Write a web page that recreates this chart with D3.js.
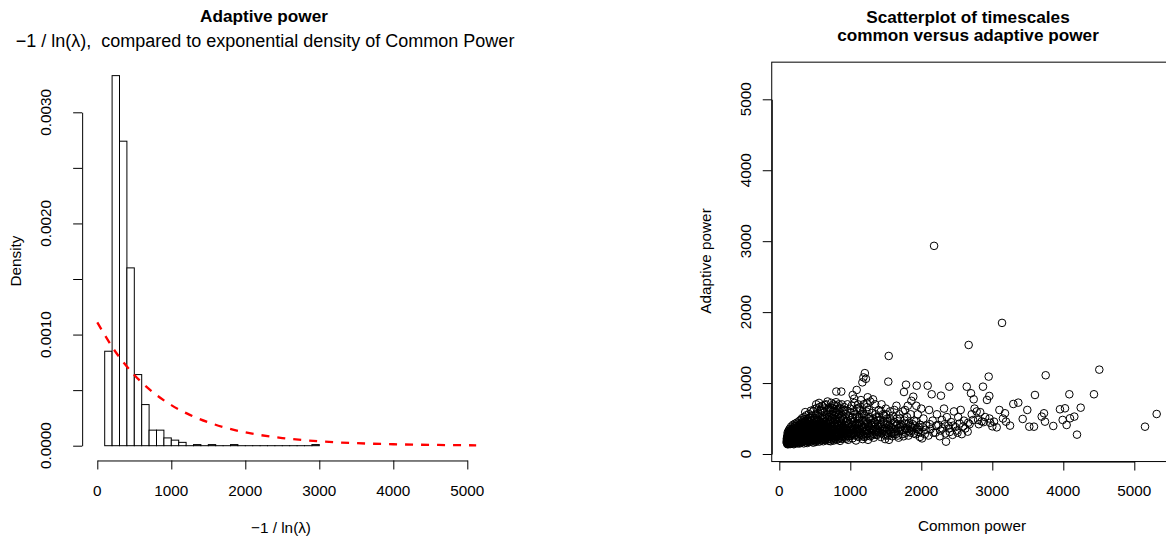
<!DOCTYPE html>
<html>
<head>
<meta charset="utf-8">
<script src="https://cdn.jsdelivr.net/npm/d3@7"></script>
<style>
body { margin: 0; background: #fff; }
svg { display: block; font-family: "Liberation Sans", Arial, Helvetica, sans-serif; }
</style>
</head>
<body>
<svg id="chart" width="1166" height="538"></svg>
<script>
// ---- data ----
var histBreaks = [100,200,300,400,500,600,700,800,900,1000,1100,1200,1300,1400,1500,1600,1700,1800,1900,2000,
                  2100,2200,2300,2400,2500,2600,2700,2800,2900,3000]
var histDensity = [0.00085,0.00333,0.00274,0.0016,0.00064,0.00037,0.00014,0.00014,0.00007,0.00005,
                   0.00003,0,0.00001,0,0.00001,0,0,0.00001,0,0,0,0,0,0,0,0,0,0,0.00001]

// exponential density of common power (red dashed)
var expX = [0,250,500,750,1000,1250,1500,1750,2000,2500,3000,3500,4000,4500,5120]
var expY = [0.00111,0.000841,0.000637,0.000482,0.000365,0.000277,0.00021,0.000159,0.00012,
            0.000069,0.0000396,0.0000227,0.000013,0.0000075,0.0000037]

var xTicks = [0,1000,2000,3000,4000,5000]
var densTicks = [0,0.0005,0.001,0.0015,0.002,0.0025,0.003]
var densLabels = [0,0.001,0.002,0.003]
var scatTicks = [0,1000,2000,3000,4000,5000]

// common power (x) vs adaptive power (y)
var points = [
[102,168],[106,214],[109,145],[112,252],[115,188],[118,302],[120,136],[123,230],[125,175],[128,268],[130,150],[132,330],
[135,205],[137,242],[140,160],[142,290],[145,188],[147,356],[150,222],[152,140],[155,262],[157,198],[160,318],[162,172],
[165,240],[167,386],[170,155],[172,280],[175,210],[177,340],[180,182],[182,250],[185,145],[187,300],[190,228],[192,410],
[195,165],[197,272],[200,200],[202,350],[205,138],[207,238],[210,310],[212,180],[215,262],[217,425],[220,152],[222,220],
[225,292],[227,370],[230,195],[232,248],[235,160],[237,330],[240,212],[242,278],[245,440],[247,175],[250,256],
[108,195],[126,210],[138,275],[148,175],[158,235],[168,205],[178,265],[188,190],[198,230],[208,285],[218,245],[228,215],
[238,300],[248,230],[116,240],[134,185],[153,295],[173,230],[193,320],[213,210],[233,275],[143,320],[183,360],[223,395],
[252,185],[255,330],[258,150],[260,270],[263,405],[265,215],[268,300],[270,165],[273,245],[275,460],[278,195],[280,355],
[283,280],[285,148],[288,225],[290,385],[293,260],[295,175],[298,320],[300,480],[302,205],[305,290],[308,160],[310,245],
[312,410],[315,345],[318,190],[320,270],[322,505],[325,225],[328,310],[330,170],[332,380],[335,255],[338,440],[340,200],
[342,295],[345,150],[348,350],[350,235],[352,520],[355,275],[358,185],[360,400],[362,320],[365,215],[368,460],[370,260],
[372,165],[375,340],[378,235],[380,545],[382,295],[385,195],[388,420],[390,270],[392,155],[395,370],[398,245],[400,490],
[402,315],[405,210],[408,180],[410,390],[412,280],[415,560],[418,235],[420,340],[422,170],[425,440],[428,300],[430,220],
[432,515],[435,265],[438,380],[440,190],[442,330],[445,250],[448,470],[450,290],
[262,235],[282,250],[302,265],[322,240],[342,230],[362,250],[382,240],[402,260],[422,275],[442,225],[272,300],[292,285],
[312,300],[332,280],[352,300],[372,290],[392,310],[412,330],[432,300],[257,365],[297,420],[337,330],[377,380],[417,395],
[305,195],[345,200],[385,220],[425,205],[365,590],[445,610],
[111,230],[114,160],[119,205],[121,280],[124,145],[127,190],[131,245],[133,170],[136,310],[139,220],[141,150],[144,265],
[146,200],[149,290],[151,175],[154,230],[156,155],[159,270],[161,210],[163,340],[166,180],[169,300],[171,225],[174,160],
[176,260],[179,200],[181,330],[184,240],[186,170],[189,280],[191,210],[194,360],[196,250],[199,180],[201,300],[204,220],
[206,165],[209,260],[211,390],[214,200],[216,320],[219,240],[221,175],[224,280],[226,210],[229,345],[231,260],[234,190],
[236,300],[239,230],[241,165],[244,360],[246,270],[249,200],
[253,260],[256,210],[259,300],[261,190],[264,340],[267,250],[269,200],[271,380],[274,280],[276,230],[279,320],[281,175],
[284,260],[286,420],[289,300],[291,210],[294,350],[296,250],[299,190],[301,380],[304,230],[306,320],[309,275],[311,180],
[314,440],[316,260],[319,340],[321,210],[324,290],[326,370],[329,240],[331,190],[334,320],[336,470],[339,270],[341,215],
[344,400],[346,300],[349,180],[351,260],[354,350],[356,225],[359,300],[361,460],[364,280],[366,200],[369,330],[371,390],
[374,250],[376,190],[379,300],[381,430],[384,270],[386,350],[389,215],[391,500],[394,290],[396,230],[399,360],[401,200],
[404,280],[406,420],[409,250],[411,330],[414,190],[416,470],[419,300],[421,240],[424,370],[426,280],[429,200],[431,420],
[434,330],[436,250],[439,290],[441,510],[444,370],[446,215],[449,320],
[452,175],[455,360],[458,230],[460,540],[463,285],[465,195],[468,410],[470,320],[473,250],[475,600],[478,160],[480,370],
[483,270],[485,480],[488,215],[490,340],[493,630],[495,295],[498,185],[500,430],[503,250],[505,365],[508,555],[510,210],
[513,310],[515,170],[518,460],[520,270],[523,395],[525,645],[528,235],[530,330],[533,500],[535,190],[538,285],[540,420],
[543,250],[545,575],[548,350],[550,205],[553,300],[555,470],[558,240],[560,380],[563,660],[565,175],[568,320],[570,525],
[573,260],[575,410],[578,220],[580,345],[583,610],[585,290],[588,190],[590,445],[593,255],[595,370],[598,540],[600,230],
[603,310],[605,680],[608,200],[610,400],[613,275],[615,495],[618,350],[620,180],[623,590],[625,250],[628,425],[630,315],
[633,215],[635,640],[638,290],[640,380],[643,510],[645,235],[648,340],[650,195],[653,455],[655,280],[658,700],[660,370],
[663,225],[665,560],[668,310],[670,420],[673,260],[675,620],[678,205],[680,345],[683,480],[685,290],[688,395],[690,240],
[693,655],[695,330],[698,185],[700,440],
[462,265],[482,235],[502,290],[522,225],[542,300],[562,265],[582,250],[602,270],[622,295],[642,260],[662,285],[682,250],
[472,395],[512,420],[552,405],[592,330],[632,410],[672,360],
[454,260],[459,330],[464,220],[469,290],[474,440],[479,250],[484,350],[489,200],[494,300],[499,510],[504,240],[509,330],
[514,280],[519,200],[524,350],[529,480],[534,260],[539,310],[544,220],[549,420],[554,270],[559,340],[564,230],[569,290],
[574,460],[579,250],[584,370],[589,300],[594,210],[599,420],[604,260],[609,350],[614,220],[619,300],[624,450],[629,270],
[634,340],[639,200],[644,310],[649,500],[654,250],[659,330],[664,280],[669,230],[674,390],[679,300],[684,210],[689,330],
[694,520],[699,280],
[703,270],[706,520],[710,210],[713,360],[716,600],[720,300],[723,180],[726,450],[730,250],[733,720],[736,340],[740,205],
[743,500],[746,285],[750,390],[753,640],[756,230],[760,320],[763,560],[766,190],[770,420],[773,275],[776,680],[780,350],
[783,215],[786,480],[790,300],[793,590],[796,245],[800,380],[803,880],[806,200],[810,450],[813,320],[816,620],[820,260],
[823,525],[826,355],[830,210],[833,410],[836,700],[840,290],[843,230],[846,560],[850,340],[853,470],[856,185],[860,640],
[863,300],[866,390],[870,250],[873,880],[876,520],[880,330],[883,215],[886,430],[890,600],[893,280],[896,365],[900,240],
[905,490],[910,320],[915,660],[920,230],[925,405],[930,290],[935,560],[940,215],[945,360],[950,470],[955,265],[960,610],
[965,330],[970,200],[975,420],[980,300],[985,530],[990,250],[995,380],[1000,640],
[715,240],[745,330],[775,260],[805,300],[835,270],[865,340],[895,310],[725,390],[785,420],[845,400],[905,280],[935,440],
[965,250],
[708,300],[718,420],[728,270],[738,380],[748,230],[758,450],[768,300],[778,500],[788,260],[798,340],[808,240],[818,400],
[828,300],[838,470],[848,260],[858,360],[868,230],[878,420],[888,280],[898,500],[712,480],[742,560],[772,540],[802,590],
[832,560],[862,500],[892,540],[722,650],[762,700],[812,680],
[520,700],[560,720],[600,610],[640,690],[680,740],[720,620],[760,600],[800,730],[840,640],[880,700],[920,620],[960,700],
[1000,580],[1060,720],[1120,650],[1175,600],[1230,720],
[1010,280],[1020,450],[1030,220],[1034,832],[1040,350],[1050,600],[1060,260],[1070,400],[1080,190],[1090,903],[1095,520],
[1100,310],[1110,700],[1120,240],[1125,430],[1135,350],[1140,620],[1150,270],[1160,480],[1170,1010],[1175,210],[1180,380],
[1185,1080],[1190,560],[1200,300],[1205,1140],[1210,420],[1220,1060],[1225,250],[1235,660],[1240,350],[1250,200],[1260,500],
[1270,300],[1280,740],[1290,410],[1300,260],[1310,580],[1320,340],[1330,230],[1340,450],[1350,700],[1360,310],[1370,520],
[1380,270],[1390,390],[1400,620],
[1015,380],[1045,300],[1075,330],[1105,420],[1135,290],[1165,350],[1195,240],[1230,320],[1265,390],[1300,440],[1335,280],
[1370,350],[1055,780],[1150,760],[1245,800],[1320,770],
[1005,260],[1012,340],[1022,510],[1028,400],[1038,280],[1048,460],[1058,350],[1068,560],[1078,270],[1088,420],[1098,360],
[1108,250],[1118,500],[1128,320],[1138,440],[1148,300],[1158,560],[1168,260],[1178,470],[1188,380],[1198,540],[1208,330],
[1218,460],[1228,600],[1238,280],[1248,390],[1258,330],[1268,520],[1278,250],[1288,470],[1298,350],[1312,400],[1325,500],
[1338,330],[1352,440],[1365,270],[1378,470],[1392,310],[1405,520],[1418,340],[1438,420],[1458,320],[1478,540],[1498,260],
[1518,450],[1538,340],[1558,500],[1578,290],[1598,430],[1630,310],[1655,500],[1670,260],[1705,380],[1735,280],[1765,470],
[1795,350],[1825,440],[1860,380],[1895,290],[1925,460],[1955,310],[1985,410],
[910,380],[930,350],[950,280],[970,400],[990,330],[1005,470],[1025,300],[1035,520],[1065,410],[1085,300],[1115,360],
[1130,520],[1155,400],[1185,320],[1215,280],[1250,430],[1280,360],[1310,290],[1345,380],[1385,330],[1415,410],[1445,290],
[1465,450],[1495,370],[1515,280],[1555,330],[1595,360],[1615,280],[1645,400],[1690,320],[1710,420],[1745,340],[1790,420],
[1850,300],[1890,360],[1910,400],[1970,340],[1020,680],[1095,640],[1190,700],[1265,620],[1355,560],[1430,600],[1505,560],
[1620,620],[1690,560],[1770,620],[1850,560],[1930,680],
[1410,300],[1420,480],[1430,240],[1440,700],[1450,360],[1460,560],[1470,280],[1480,420],[1490,210],[1500,640],[1510,330],
[1520,500],[1530,260],[1535,1020],[1541,1382],[1545,200],[1550,400],[1560,600],[1570,310],[1580,470],[1590,250],[1600,540],
[1620,350],[1640,280],[1650,680],[1660,420],[1680,230],[1700,500],[1720,330],[1740,600],[1750,250],[1756,874],[1760,430],
[1780,300],[1785,977],[1800,520],[1810,680],[1820,260],[1840,400],[1860,750],[1870,330],[1887,808],[1900,470],[1920,280],
[1935,963],[1950,560],[1960,380],[1980,240],[2000,640],
[1425,380],[1475,350],[1525,420],[1575,380],[1625,450],[1675,360],[1725,400],[1775,360],[1830,320],[1880,420],[1940,350],
[1990,300],
[2010,220],[2030,500],[2050,280],[2070,400],[2090,963],[2100,260],[2110,620],[2130,350],[2146,842],[2160,470],[2180,2934],
[2200,300],[2220,560],[2240,410],[2260,250],[2277,822],[2290,480],[2300,360],[2320,640],[2340,290],[2348,174],[2360,520],
[2380,400],[2394,949],[2400,310],[2420,450],[2440,270],[2460,600],[2480,380],[2500,330],[2520,520],[2540,430],[2555,621],
[2570,280],[2600,470],[2620,360],[2640,949],[2653,315],[2667,1537],[2680,420],[2700,856],[2710,560],[2738,771],[2750,640],
[2780,600],[2800,480],[2830,590],[2850,460],[2869,949],[2900,520],[2925,762],[2949,1091],[2958,818],[2970,440],[3000,390],
[3024,456],[3062,376],[3100,620],[3137,1848],[3150,500],[3179,574],[3193,456],[3250,400],
[2020,380],[2060,340],[2120,420],[2170,300],[2210,400],[2270,330],[2330,420],[2390,360],[2450,400],[2510,300],[2590,390],
[2660,440],[2730,480],[2810,420],[2880,450],[2960,500],
[3296,705],[3366,724],[3428,494],[3493,621],[3521,385],[3587,385],[3601,832],[3696,527],[3728,574],[3742,456],[3752,1110],
[3859,395],[3953,630],[3991,480],[4024,644],[4047,409],[4085,842],[4094,503],[4155,527],[4193,273],[4245,653],[4432,842],
[4507,1189],[5151,385],[5315,564]
]

var svg = d3.select("#chart")
var fmt4 = d3.format(".4f")

// ---------------- left panel: histogram ----------------
var xL = d3.scaleLinear().domain([0,5000]).range([97.3,467.3])
var yL = d3.scaleLinear().domain([0,0.003]).range([445.7,112.3])
var leftUsr = xL(-204.8)
var bottomL = yL(-0.000133)

var bins = histDensity.map(function(d,i){ return {x0:histBreaks[i], x1:histBreaks[i+1], d:d} })

svg.append("g")
   .selectAll("rect")
   .data(bins)
   .enter()
   .append("rect")
   .attr("x",function(b){ return xL(b.x0) })
   .attr("width",function(b){ return xL(b.x1)-xL(b.x0) })
   .attr("y",function(b){ return yL(b.d) })
   .attr("height",function(b){ return Math.max(0.01,yL(0)-yL(b.d)) })
   .attr("fill","white")
   .attr("stroke","black")
   .attr("stroke-width",1)

var expLine = d3.line()
                .x(function(d,i){ return xL(expX[i]) })
                .y(function(d){ return yL(d) })
                .curve(d3.curveMonotoneX)
svg.append("path")
   .datum(expY)
   .attr("d",expLine)
   .attr("fill","none")
   .attr("stroke","#ff0000")
   .attr("stroke-width",2.3)
   .attr("stroke-dasharray","8,8")

// axes
svg.append("g")
   .attr("transform","translate(0,"+bottomL+")")
   .call(d3.axisBottom(xL).tickValues(xTicks).tickSize(9).tickSizeOuter(0).tickFormat(""))
svg.append("g")
   .attr("transform","translate("+leftUsr+",0)")
   .call(d3.axisLeft(yL).tickValues(densTicks).tickSize(9).tickSizeOuter(0).tickFormat(""))

svg.append("g").selectAll("text")
   .data(xTicks).enter().append("text")
   .attr("x",function(d){ return xL(d) })
   .attr("y",496)
   .attr("text-anchor","middle")
   .style("font-size","15.3px")
   .text(function(d){ return d })

svg.append("g").selectAll("text")
   .data(densLabels).enter().append("text")
   .attr("transform",function(d){ return "translate(51,"+yL(d)+") rotate(-90)" })
   .attr("text-anchor","middle")
   .style("font-size","15.3px")
   .text(function(d){ return fmt4(d) })

svg.append("text")
   .attr("transform","translate(21,261) rotate(-90)")
   .attr("text-anchor","middle")
   .style("font-size","15.3px")
   .text("Density")

svg.append("text")
   .attr("x",281).attr("y",533)
   .attr("text-anchor","middle")
   .style("font-size","15.3px")
   .style("white-space","pre")
   .text("\u22121 / ln(\u03bb)")

svg.append("text")
   .attr("x",264).attr("y",22)
   .attr("text-anchor","middle")
   .style("font-size","17.2px")
   .style("font-weight","bold")
   .text("Adaptive power")

svg.append("text")
   .attr("x",265).attr("y",47)
   .attr("text-anchor","middle")
   .style("font-size","18px")
   .style("white-space","pre")
   .text("\u22121 / ln(\u03bb),  compared to exponential density of Common Power")

// ---------------- right panel: scatterplot ----------------
var xR = d3.scaleLinear().domain([0,5000]).range([779.3,1134.3])
var yR = d3.scaleLinear().domain([0,5000]).range([454,99.3])

var allVals = points.map(function(p){ return p[0] }).concat(points.map(function(p){ return p[1] }))
var ext = d3.extent(allVals)
var pad = 0.04*(ext[1]-ext[0])
var lo = ext[0]-pad, hi = ext[1]+pad

svg.append("rect")
   .attr("x",xR(lo)).attr("y",yR(hi))
   .attr("width",xR(hi)-xR(lo)).attr("height",yR(lo)-yR(hi))
   .attr("fill","none")
   .attr("stroke","black")
   .attr("stroke-width",1)

svg.append("g")
   .selectAll("circle")
   .data(points)
   .enter()
   .append("circle")
   .attr("cx",function(p){ return xR(p[0]) })
   .attr("cy",function(p){ return yR(p[1]) })
   .attr("r",3.8)
   .attr("fill","none")
   .attr("stroke","black")
   .attr("stroke-width",1)

svg.append("g")
   .attr("transform","translate(0,"+yR(lo)+")")
   .call(d3.axisBottom(xR).tickValues(scatTicks).tickSize(9).tickSizeOuter(0).tickFormat(""))
svg.append("g")
   .attr("transform","translate("+xR(lo)+",0)")
   .call(d3.axisLeft(yR).tickValues(scatTicks).tickSize(9).tickSizeOuter(0).tickFormat(""))

svg.append("g").selectAll("text")
   .data(scatTicks).enter().append("text")
   .attr("x",function(d){ return xR(d) })
   .attr("y",496)
   .attr("text-anchor","middle")
   .style("font-size","15.3px")
   .text(function(d){ return d })

svg.append("g").selectAll("text")
   .data(scatTicks).enter().append("text")
   .attr("transform",function(d){ return "translate(751,"+yR(d)+") rotate(-90)" })
   .attr("text-anchor","middle")
   .style("font-size","15.3px")
   .text(function(d){ return d })

svg.append("text")
   .attr("transform","translate(711,261) rotate(-90)")
   .attr("text-anchor","middle")
   .style("font-size","15.3px")
   .text("Adaptive power")

svg.append("text")
   .attr("x",972).attr("y",531)
   .attr("text-anchor","middle")
   .style("font-size","15.3px")
   .text("Common power")

svg.append("text")
   .attr("x",968).attr("y",23)
   .attr("text-anchor","middle")
   .style("font-size","17.2px")
   .style("font-weight","bold")
   .text("Scatterplot of timescales")
svg.append("text")
   .attr("x",968).attr("y",41)
   .attr("text-anchor","middle")
   .style("font-size","17.2px")
   .style("font-weight","bold")
   .text("common versus adaptive power")
</script>
</body>
</html>
